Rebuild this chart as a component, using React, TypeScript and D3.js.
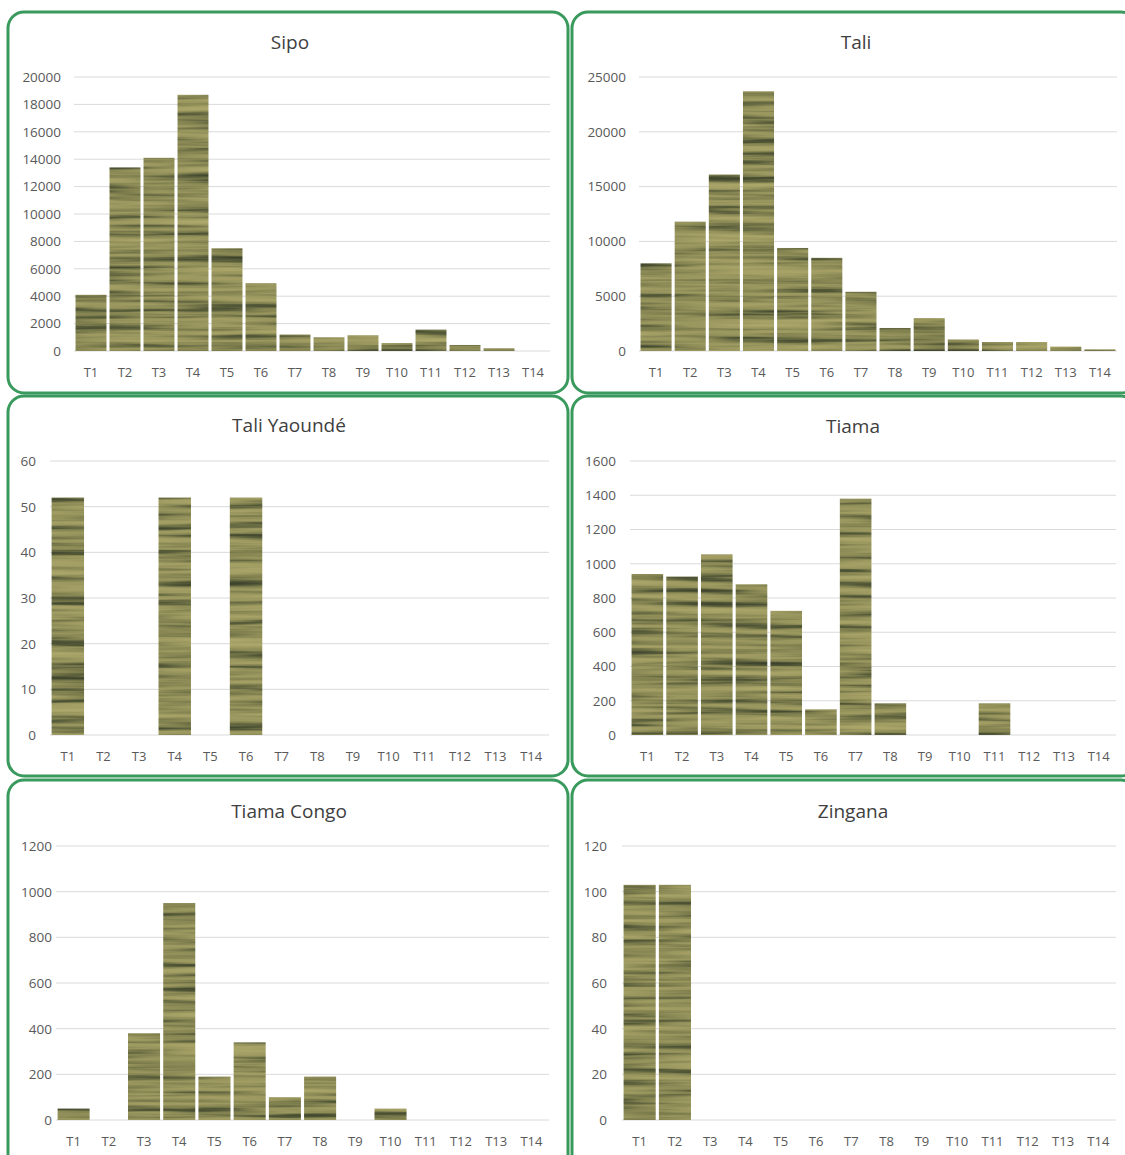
import React from "react";
import * as d3 from "d3";

const categories = ["T1","T2","T3","T4","T5","T6","T7","T8","T9","T10","T11","T12","T13","T14"];

const titles = ["Sipo", "Tali", "Tali Yaoundé", "Tiama", "Tiama Congo", "Zingana"];

const sipo = [4100, 13400, 14100, 18700, 7500, 4950, 1200, 1000, 1150, 580, 1560, 440, 200, 0];
const tali = [8000, 11800, 16100, 23700, 9400, 8500, 5400, 2100, 3000, 1050, 820, 820, 400, 150];
const taliYaounde = [52, 0, 0, 52, 0, 52, 0, 0, 0, 0, 0, 0, 0, 0];
const tiama = [940, 925, 1055, 880, 725, 150, 1380, 185, 0, 0, 185, 0, 0, 0];
const tiamaCongo = [50, 0, 380, 950, 190, 340, 100, 190, 0, 50, 0, 0, 0, 0];
const zingana = [103, 103, 0, 0, 0, 0, 0, 0, 0, 0, 0, 0, 0, 0];

const yMax = [20000, 25000, 60, 1600, 1200, 120];
const yStep = [2000, 5000, 10, 200, 200, 20];

const seriesList = [sipo, tali, taliYaounde, tiama, tiamaCongo, zingana];

// layout (positions of each panel)
const panelBoxes = [
  { x: 8, y: 12, w: 560, h: 381 },
  { x: 572, y: 12, w: 565, h: 381 },
  { x: 8, y: 396, w: 560, h: 380 },
  { x: 572, y: 396, w: 565, h: 380 },
  { x: 8, y: 780, w: 560, h: 390 },
  { x: 572, y: 780, w: 565, h: 390 },
];
const plotAreas = [
  { x0: 74, x1: 550, yTop: 77, yZero: 351, labelX: 61, titleX: 290, titleY: 42 },
  { x0: 639, x1: 1117, yTop: 77, yZero: 351, labelX: 626, titleX: 856, titleY: 42 },
  { x0: 50, x1: 549, yTop: 461, yZero: 735, labelX: 36, titleX: 289, titleY: 425 },
  { x0: 630, x1: 1116, yTop: 461, yZero: 735, labelX: 616, titleX: 853, titleY: 426 },
  { x0: 56, x1: 549, yTop: 846, yZero: 1120, labelX: 52, titleX: 289, titleY: 811 },
  { x0: 622, x1: 1116, yTop: 846, yZero: 1120, labelX: 607, titleX: 853, titleY: 811 },
];

const FONT = "'Open Sans', 'Noto Sans', sans-serif";

function Panel({ i }: { i: number }) {
  const box = panelBoxes[i];
  const p = plotAreas[i];
  const data = seriesList[i];
  const x = d3.scaleBand<string>().domain(categories).range([p.x0, p.x1]).paddingInner(0.09).paddingOuter(0.045);
  const y = d3.scaleLinear().domain([0, yMax[i]]).range([p.yZero, p.yTop]);
  const ticks = d3.range(0, yMax[i] + yStep[i] / 2, yStep[i]);
  return (
    <g>
      <rect x={box.x} y={box.y} width={box.w} height={box.h} rx={16} ry={16}
        fill="#ffffff" stroke="#3a9a5e" strokeWidth={3} />
      <text x={p.titleX} y={p.titleY + 7} textAnchor="middle" fontSize={19}
        fontFamily={FONT} fill="#404040">{titles[i]}</text>
      {ticks.map((t) => (
        <g key={t}>
          <line x1={p.x0} x2={p.x1} y1={y(t)} y2={y(t)} stroke="#dadada" strokeWidth={1} />
          <text x={p.labelX} y={y(t)} dy="0.36em" textAnchor="end" fontSize={13.5}
            fontFamily={FONT} fill="#595959">{t}</text>
        </g>
      ))}
      <g filter="url(#wood)">
        {data.map((v, k) => v > 0 ? (
          <rect key={k} x={x(categories[k])} y={y(v)} width={x.bandwidth()}
            height={p.yZero - y(v)} fill="#8f8a55" />
        ) : null)}
      </g>
      {categories.map((c) => (
        <text key={c} x={(x(c) as number) + x.bandwidth() / 2} y={p.yZero + 26}
          textAnchor="middle" fontSize={13} fontFamily={FONT} fill="#595959">{c}</text>
      ))}
    </g>
  );
}

export default function App() {
  return (
    <svg width={1125} height={1155} style={{ position: "absolute", left: 0, top: 0, background: "#ffffff" }}>
      <defs>
        <filter id="wood" x="0" y="0" width="1" height="1" filterUnits="objectBoundingBox" colorInterpolationFilters="sRGB">
          <feTurbulence type="fractalNoise" baseFrequency="0.006 0.16" numOctaves={3} seed={7} result="noise" />
          <feColorMatrix in="noise" type="matrix"
            values="1 0 0 0 0  1 0 0 0 0  1 0 0 0 0  0 0 0 0 1" result="gray" />
          <feComponentTransfer in="gray" result="col">
            <feFuncR type="table" tableValues="0.22 0.25 0.33 0.5 0.6 0.65 0.68 0.7" />
            <feFuncG type="table" tableValues="0.24 0.27 0.35 0.5 0.59 0.63 0.66 0.68" />
            <feFuncB type="table" tableValues="0.16 0.18 0.22 0.31 0.37 0.4 0.42 0.44" />
          </feComponentTransfer>
          <feComposite in="col" in2="SourceGraphic" operator="in" />
        </filter>
      </defs>
      {titles.map((_, i) => <Panel key={i} i={i} />)}
    </svg>
  );
}
